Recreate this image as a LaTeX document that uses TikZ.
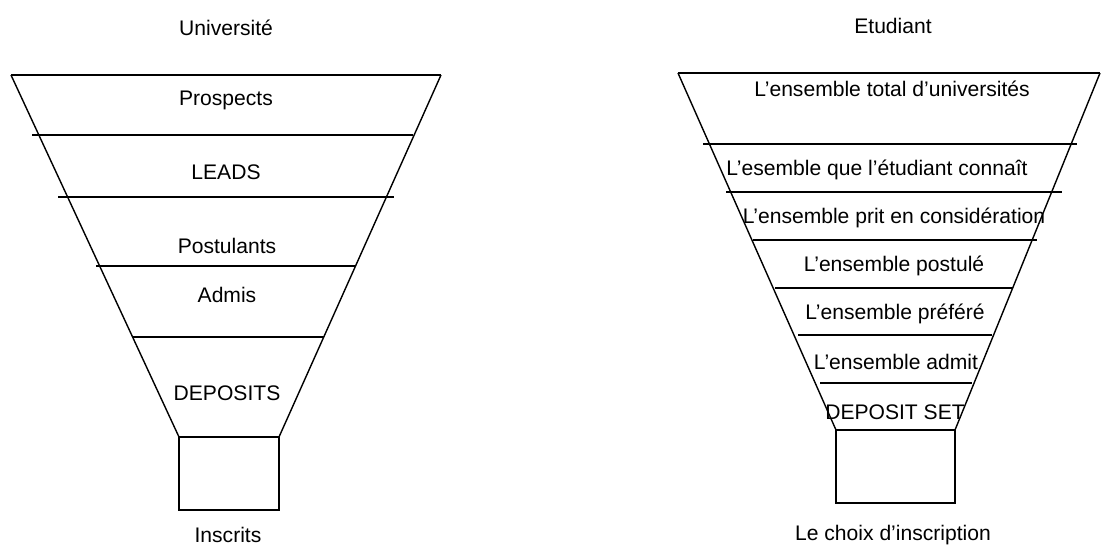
\documentclass[tikz,border=0pt]{standalone}
\usepackage{fontspec}
\setmainfont{Liberation Sans}
\begin{document}
\begin{tikzpicture}[x=0.02cm,y=-0.02cm,line width=0.8pt]
			\newcommand{\myfontlabels}[1]{
				\fontsize{12}{14}\selectfont{#1}
			}%Outer frame of the page
			\useasboundingbox (0,0) rectangle (1101,549);
			%University funnel
			%Corners of the hull
			\coordinate (uTopL) at (11,75);
			\coordinate (uTopR) at (441,75);
			\coordinate (uBotL) at (179,437);
			\coordinate (uBotR) at (279,437);
			\coordinate (uBoxB) at (279,510);
			\draw (uTopL) -- (uTopR);
			\draw (uTopL) -- (uBotL);
			\draw (uTopR) -- (uBotR);
			%Lines between the stages
			\coordinate (uL1) at (32,135);
			\coordinate (uL2) at (58,197);
			\coordinate (uL3) at (96,266);
			\coordinate (uL4) at (132,337);
			\coordinate (uR1) at (413,135);
			\coordinate (uR2) at (394,197);
			\coordinate (uR3) at (356,266);
			\coordinate (uR4) at (324,337);
			\draw (uL1) -- (uR1);
			\draw (uL2) -- (uR2);
			\draw (uL3) -- (uR3);
			\draw (uL4) -- (uR4);
			%Box at the bottom
			\draw (uBotL) rectangle (uBoxB);
			%Labels
			\node (uTitle) at (226,28) {\myfontlabels{Université}};
			\node (uProspects) at (226,100) {\myfontlabels{Prospects}};
			\node (uLeads) at (226,172) {\myfontlabels{LEADS}};
			\node (uPostulants) at (227,246) {\myfontlabels{Postulants}};
			\node (uAdmis) at (227,295) {\myfontlabels{Admis}};
			\node (uDeposits) at (227,393) {\myfontlabels{DEPOSITS}};
			\node (uInscrits) at (228,535) {\myfontlabels{Inscrits}};
			%Student funnel
			%Corners of the hull
			\coordinate (sTopL) at (678,73);
			\coordinate (sTopR) at (1100,73);
			\coordinate (sBotL) at (836,430);
			\coordinate (sBotR) at (955,430);
			\coordinate (sBoxB) at (955,503);
			\draw (sTopL) -- (sTopR);
			\draw (sTopL) -- (sBotL);
			\draw (sTopR) -- (sBotR);
			%Lines between the stages
			\coordinate (sL1) at (703,144);
			\coordinate (sL2) at (726,192);
			\coordinate (sL3) at (753,240);
			\coordinate (sL4) at (775,288);
			\coordinate (sL5) at (798,335);
			\coordinate (sL6) at (820,383);
			\coordinate (sR1) at (1077,144);
			\coordinate (sR2) at (1062,192);
			\coordinate (sR3) at (1037,240);
			\coordinate (sR4) at (1013,288);
			\coordinate (sR5) at (992,335);
			\coordinate (sR6) at (972,383);
			\draw (sL1) -- (sR1);
			\draw (sL2) -- (sR2);
			\draw (sL3) -- (sR3);
			\draw (sL4) -- (sR4);
			\draw (sL5) -- (sR5);
			\draw (sL6) -- (sR6);
			%Box at the bottom
			\draw (sBotL) rectangle (sBoxB);
			%Labels
			\node (sTitle) at (893,26) {\myfontlabels{Etudiant}};
			\node (sTotal) at (892,89) {\myfontlabels{L’ensemble total d’universités}};
			\node (sConnu) at (877,170) {\myfontlabels{L’esemble que l’étudiant connaît}};
			\node (sConsidere) at (894,218) {\myfontlabels{L’ensemble prit en considération}};
			\node (sPostule) at (894,266) {\myfontlabels{L’ensemble postulé}};
			\node (sPrefere) at (895,314) {\myfontlabels{L’ensemble préféré}};
			\node (sAdmit) at (896,362) {\myfontlabels{L’ensemble admit}};
			\node (sDeposit) at (895,412) {\myfontlabels{DEPOSIT SET}};
			\node (sChoix) at (893,535) {\myfontlabels{Le choix d’inscription}};
\end{tikzpicture}
\end{document}
